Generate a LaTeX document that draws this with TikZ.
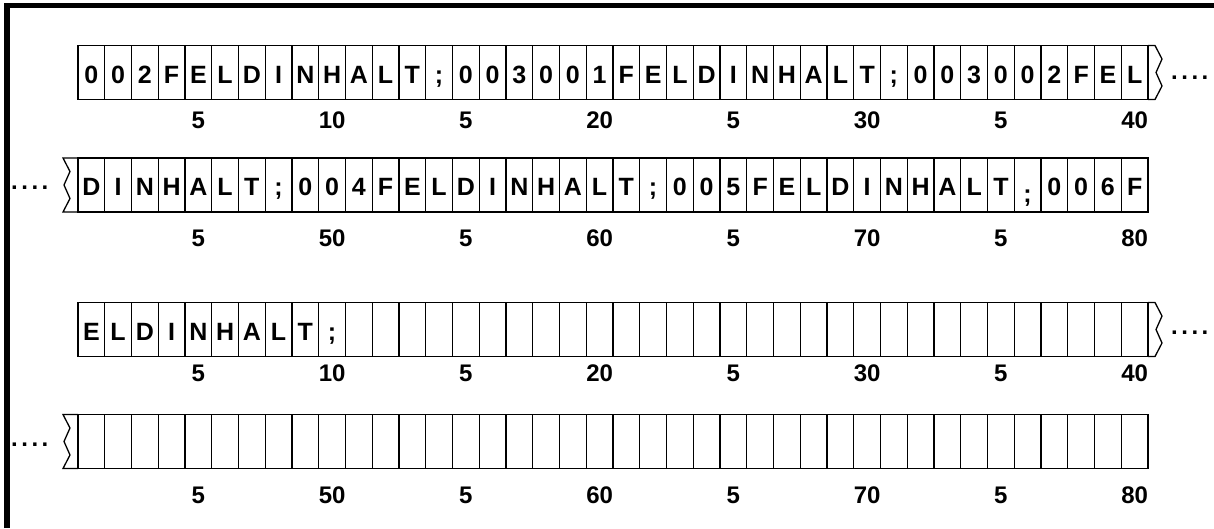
\documentclass[tikz,border=0pt]{standalone}
\usepackage{fontspec}
\setmainfont{Liberation Sans}
\newcommand\cellfont{\bfseries\fontsize{25}{25}\selectfont}
\newcommand\labfont{\bfseries\fontsize{24}{24}\selectfont}
\newcommand\lowsemi{\raisebox{-7pt}{;}}
\newcommand\dotrow{.\kern3.5pt.\kern3.5pt.\kern3.5pt.}
\begin{document}
\begin{tikzpicture}[x=1pt,y=-1pt,
  cell/.style={draw, line width=1.3pt, minimum width=26.75pt, minimum height=54pt,
    inner sep=0pt, outer sep=0pt, text height=21pt, text depth=0pt, font=\cellfont},
  lab/.style={anchor=base, font=\labfont, inner sep=0pt},
  dotlab/.style={anchor=base west, font=\labfont, inner sep=0pt},
  zig/.style={line width=1.3pt, line join=miter}]
\useasboundingbox (0,0) rectangle (1214,528);
\fill[white] (0,0) rectangle (1214,528);
% frame
\draw[line width=6pt] (7,528) -- (7,3.2);
\draw[line width=4.5pt] (4,5.5) -- (1214,5.5);
\def\xo{78}
\def\w{26.75}
% row 1
\foreach \c [count=\i] in {0,0,2,F,E,L,D,I,N,H,A,L,T,;,0,0,3,0,0,1,F,E,L,D,I,N,H,A,L,T,;,0,0,3,0,0,2,F,E,L}
  \node[cell] (r1c\i) at ({\xo+(\i-0.5)*\w},72.5) {\c};
% row 2
\foreach \c [count=\i] in {D,I,N,H,A,L,T,;,0,0,4,F,E,L,D,I,N,H,A,L,T,;,0,0,5,F,E,L,D,I,N,H,A,L,T,\lowsemi,0,0,6,F}
  \node[cell] (r2c\i) at ({\xo+(\i-0.5)*\w},185) {\c};
% row 3
\foreach \c [count=\i] in {E,L,D,I,N,H,A,L,T,;}
  \node[cell] (r3c\i) at ({\xo+(\i-0.5)*\w},329.5) {\c};
\foreach \i in {11,...,40}
  \node[cell] (r3c\i) at ({\xo+(\i-0.5)*\w},329.5) {};
% row 4
\foreach \i in {1,...,40}
  \node[cell] (r4c\i) at ({\xo+(\i-0.5)*\w},441.5) {};
% labels
\foreach \t [count=\k] in {5,10,5,20,5,30,5,40}
  \node[lab] (l1n\k) at ({\xo+(5*\k-0.5)*\w},128.3) {\t};
\foreach \t [count=\k] in {5,50,5,60,5,70,5,80}
  \node[lab] (l2n\k) at ({\xo+(5*\k-0.5)*\w},246.7) {\t};
\foreach \t [count=\k] in {5,10,5,20,5,30,5,40}
  \node[lab] (l3n\k) at ({\xo+(5*\k-0.5)*\w},381.7) {\t};
\foreach \t [count=\k] in {5,50,5,60,5,70,5,80}
  \node[lab] (l4n\k) at ({\xo+(5*\k-0.5)*\w},503.3) {\t};
% zigzag ends
\draw[zig] (r1c40.north east) -- ++(7,0) -- ++(7,13.5) -- ++(-6,13.5) -- ++(6,13.5) -- ++(-7,13.5) -- (r1c40.south east);
\draw[zig] (r3c40.north east) -- ++(7,0) -- ++(7,13.5) -- ++(-6,13.5) -- ++(6,13.5) -- ++(-7,13.5) -- (r3c40.south east);
\draw[zig] (r2c1.north west) -- ++(-15,0) -- ++(7,13.5) -- ++(-6,13.5) -- ++(6,13.5) -- ++(-7,13.5) -- (r2c1.south west);
\draw[zig] (r4c1.north west) -- ++(-15,0) -- ++(7,13.5) -- ++(-6,13.5) -- ++(6,13.5) -- ++(-7,13.5) -- (r4c1.south west);
% continuation dots
\node[dotlab] (d1) at (1171,79.5) {\dotrow};
\node[dotlab] (d2) at (11,189.5) {\dotrow};
\node[dotlab] (d3) at (1171,334) {\dotrow};
\node[dotlab] (d4) at (11,446) {\dotrow};
\end{tikzpicture}
\end{document}
